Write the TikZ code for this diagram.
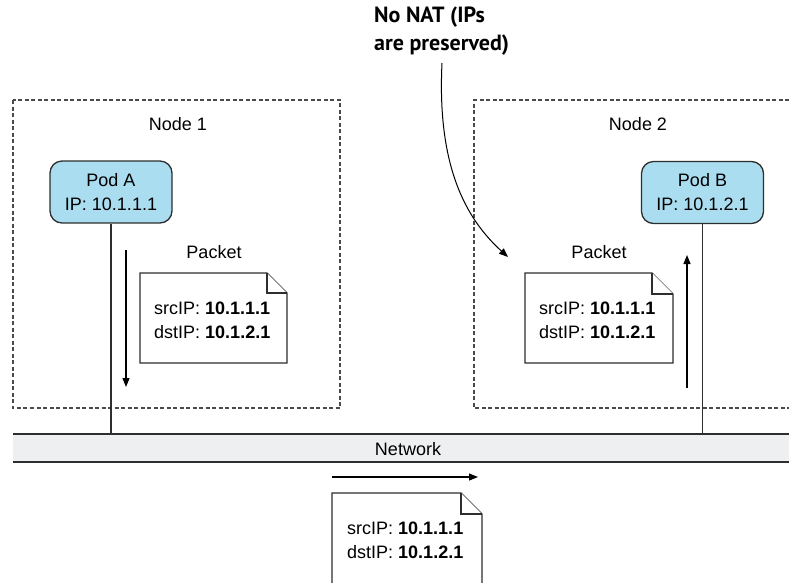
\documentclass[tikz,border=0pt]{standalone}
\usepackage{fontspec}
\setmainfont{Liberation Sans}
\newfontfamily\annfont{PT Sans}
\usetikzlibrary{arrows.meta}
\definecolor{podblue}{HTML}{A9DDEF}
\definecolor{netgray}{HTML}{EEEFF0}
\definecolor{edgec}{HTML}{2E2E2E}
\definecolor{dashgray}{HTML}{4A4A4A}
\begin{document}
\begin{tikzpicture}[x=1pt,y=-1pt,
  every node/.style={font=\fontsize{18}{24}\selectfont},
  hostbox/.style={draw=dashgray, line width=1.3pt, dash pattern=on 4pt off 2.5pt},
  pod/.style={draw=edgec, line width=1.3pt, fill=podblue, rounded corners=12pt, minimum width=122pt, minimum height=62pt, align=center, inner sep=0pt},
  doc/.style={draw=edgec, line width=1.3pt, fill=white, line join=miter},
  flow/.style={draw=black, line width=1.2pt, -{Triangle[length=9pt,width=7pt]}},
  link/.style={draw=edgec, line width=1.3pt},
  doctext/.style={inner sep=0pt, anchor=west, align=left},
  lbl/.style={inner sep=0pt},
]
\useasboundingbox (0,0) rectangle (789,582);

% host boxes
\draw[hostbox] (13,100) rectangle (340,408);
\draw[hostbox] (789,100) -- (474,100) -- (474,408) -- (789,408);
\node[lbl] (n1lbl) at (178,124) {Node 1};
\node[lbl] (n2lbl) at (638,124) {Node 2};

% network
\node[fill=netgray, minimum width=776pt, minimum height=28pt, anchor=north west, inner sep=0pt] (net) at (13,434) {};
\draw[draw=edgec, line width=2pt] (net.north west) -- (net.north east);
\draw[draw=edgec, line width=2pt] (net.south west) -- (net.south east);
\node[lbl] (netlbl) at (408,449) {Network};

% pods
\node[pod] (podA) at (111,192) {Pod A\\IP: 10.1.1.1};
\node[pod] (podB) at (702.5,192.5) {Pod B\\IP: 10.1.2.1};
\draw[link] (podA.south) -- (podA.south |- net.north);
\draw[link] (podB.south) -- (podB.south |- net.north);

% packet in node 1
\node[lbl] (p1lbl) at (214,252) {Packet};
\draw[doc] (140,273) -- (267,273) -- (287,293) -- (287,363) -- (140,363) -- cycle;
\draw[doc] (267,273) -- (267,293) -- (287,293);
\node[doctext] (p1txt) at (154,320) {srcIP: \textbf{10.1.1.1}\\dstIP: \textbf{10.1.2.1}};
\coordinate (a1s) at (126,250);
\coordinate (a1e) at (126,387);
\draw[flow] (a1s) -- (a1e);

% packet in node 2
\node[lbl] (p2lbl) at (599,252) {Packet};
\draw[doc] (525,273) -- (652,273) -- (673,294) -- (673,363) -- (525,363) -- cycle;
\draw[doc] (652,273) -- (652,294) -- (673,294);
\node[doctext] (p2txt) at (539,320) {srcIP: \textbf{10.1.1.1}\\dstIP: \textbf{10.1.2.1}};
\coordinate (a2s) at (687,388);
\coordinate (a2e) at (687,255);
\draw[flow] (a2s) -- (a2e);

% packet on network
\coordinate (a3s) at (332,477);
\coordinate (a3e) at (478,477);
\draw[flow] (a3s) -- (a3e);
\draw[doc] (332,584) -- (332,493) -- (461,493) -- (482,514) -- (482,584);
\draw[doc] (461,493) -- (461,514) -- (482,514);
\node[doctext] (p3txt) at (347,540) {srcIP: \textbf{10.1.1.1}\\dstIP: \textbf{10.1.2.1}};

% annotation
\node[font=\annfont\bfseries\fontsize{22}{28}\selectfont, anchor=north west, align=left, inner sep=0pt] (note) at (374,7) {No NAT (IPs\\are preserved)};
\coordinate (nstart) at (442,63);
\coordinate (ntip) at (508,257);
\draw[flow, line width=1pt] (nstart) .. controls (437,165) and (465,218) .. (ntip);
\end{tikzpicture}
\end{document}
